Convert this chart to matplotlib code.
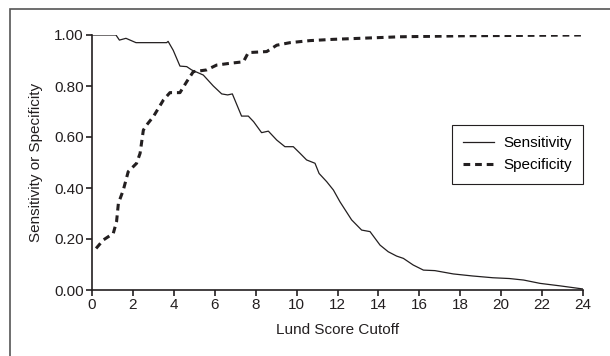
import matplotlib
matplotlib.use("Agg")
import matplotlib.pyplot as plt
from matplotlib.patches import Rectangle
from matplotlib import font_manager

# ── Data ────────────────────────────────────────────────────────────────────
sens_x = [0, 1.17, 1.34, 1.66, 2.15, 3.65, 3.72, 3.97, 4.3, 4.63, 4.87, 5.44,
          5.93, 6.34, 6.63, 6.86, 7.31, 7.64, 7.9, 8.29, 8.62, 9.03, 9.43, 9.84,
          10.17, 10.49, 10.9, 11.1, 11.47, 11.8, 12.12, 12.69, 13.18, 13.59,
          14.08, 14.48, 14.89, 15.22, 15.7, 16.2, 16.76, 17.66, 18.6, 19.6,
          20.4, 21.1, 21.9, 22.9, 24]
sens_y = [1.0, 1.0, 0.98, 0.987, 0.97, 0.97, 0.975, 0.94, 0.878, 0.876, 0.863,
          0.843, 0.80, 0.769, 0.765, 0.769, 0.682, 0.682, 0.66, 0.617, 0.623,
          0.588, 0.562, 0.562, 0.536, 0.51, 0.497, 0.457, 0.425, 0.392, 0.346,
          0.275, 0.235, 0.229, 0.176, 0.15, 0.133, 0.124, 0.098, 0.078, 0.076,
          0.063, 0.055, 0.048, 0.045, 0.039, 0.026, 0.016, 0.004]

spec_x = [0.2, 0.55, 1.04, 1.2, 1.29, 1.53, 1.77, 2.18, 2.35, 2.51, 2.67, 3.0,
          3.49, 3.81, 4.3, 4.63, 4.95, 5.6, 6.09, 6.74, 7.4, 7.64, 8.54, 9.03,
          9.68, 10.65, 11.8, 15.05, 18.3, 24]
spec_y = [0.163, 0.196, 0.222, 0.268, 0.34, 0.392, 0.464, 0.497, 0.536, 0.627,
          0.647, 0.68, 0.745, 0.774, 0.774, 0.817, 0.856, 0.863, 0.882, 0.889,
          0.895, 0.931, 0.935, 0.96, 0.97, 0.978, 0.983, 0.993, 0.997, 1.0]

x_ticks = list(range(0, 25, 2))
y_ticks = [0.0, 0.2, 0.4, 0.6, 0.8, 1.0]

# ── Font ────────────────────────────────────────────────────────────────────
names = {f.name for f in font_manager.fontManager.ttflist}
family = "Liberation Sans Narrow" if "Liberation Sans Narrow" in names else "Liberation Sans"
plt.rcParams["font.family"] = [family, "DejaVu Sans"]

ink = "#231f20"

fig = plt.figure(figsize=(6.10, 3.56), dpi=100)
ax = fig.add_axes([92 / 610, 1 - 290 / 356, 491 / 610, 255 / 356])

# outer frame (cut off at right and bottom, as in the reference)
fig.patches.append(Rectangle((10 / 610, -0.05), 1.0, 1 - 9 / 356 + 0.05,
                             transform=fig.transFigure, fill=False,
                             edgecolor="#555555", linewidth=1.2))

ax.plot(sens_x, sens_y, color=ink, linewidth=0.9, label="Sensitivity")
ax.plot(spec_x, spec_y, color=ink, linewidth=2.2, dashes=(2.2, 1.6),
        label="Specificity")

ax.set_xlim(0, 24)
ax.set_ylim(0, 1)
ax.set_xticks(x_ticks)
ax.set_yticks(y_ticks)
ax.set_yticklabels([f"{v:.2f}" for v in y_ticks])
ax.tick_params(direction="out", length=4, width=1.2, color=ink,
               labelsize=11, labelcolor=ink, pad=2)

for s in ["top", "right"]:
    ax.spines[s].set_visible(False)
for s in ["left", "bottom"]:
    ax.spines[s].set_linewidth(1.2)
    ax.spines[s].set_color(ink)

ax.set_xlabel("Lund Score Cutoff", fontsize=11, color=ink, labelpad=8)
ax.set_ylabel("Sensitivity or Specificity", fontsize=11, color=ink, labelpad=8)

leg = ax.legend(loc="upper right", bbox_to_anchor=(1.0, 0.647), fontsize=11,
                fancybox=False, edgecolor=ink, framealpha=1,
                handlelength=2.0, borderpad=0.75, labelspacing=0.5,
                handletextpad=0.6, borderaxespad=0)
leg.get_frame().set_linewidth(0.8)

fig.savefig("out.png", dpi=100)
